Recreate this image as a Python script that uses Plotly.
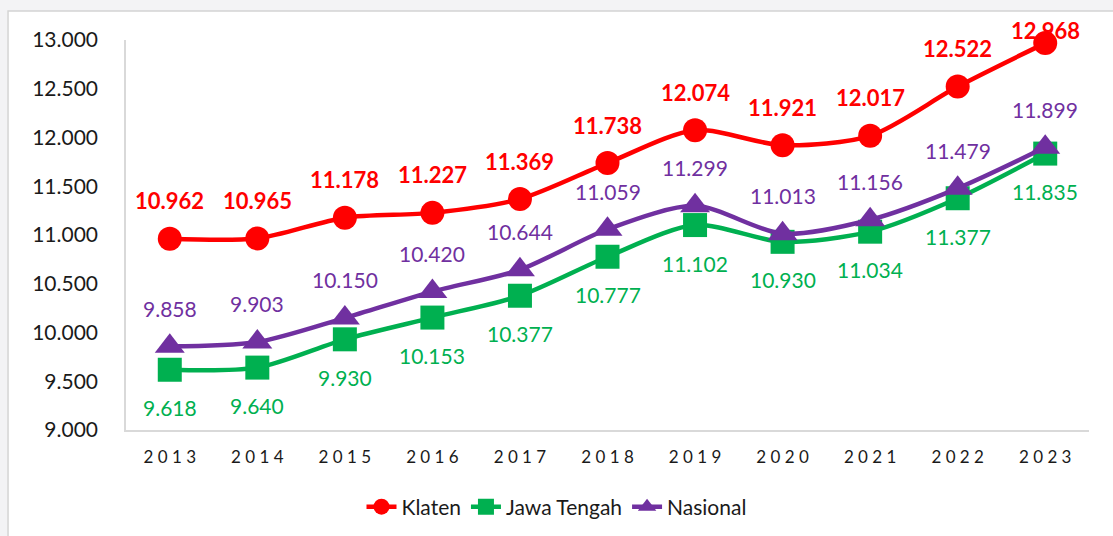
import plotly.graph_objects as go

years = [2013, 2014, 2015, 2016, 2017, 2018, 2019, 2020, 2021, 2022, 2023]
klaten = [10962, 10965, 11178, 11227, 11369, 11738, 12074, 11921, 12017, 12522, 12968]
jateng = [9618, 9640, 9930, 10153, 10377, 10777, 11102, 10930, 11034, 11377, 11835]
nasional = [9858, 9903, 10150, 10420, 10644, 11059, 11299, 11013, 11156, 11479, 11899]
y_ticks = [9000, 9500, 10000, 10500, 11000, 11500, 12000, 12500, 13000]

FONT = "Lato"
RED, GREEN, PURPLE = "#ff0000", "#00b050", "#7030a0"
Y_MIN, Y_MAX = 9000, 13000
PLOT_TOP, PLOT_H = 40, 390

def fmt(v):
    return f"{v:,}".replace(",", ".")

cats = [str(y) for y in years]
fig = go.Figure()

series = [
    ("Klaten", klaten, RED, "circle", 24, True, 38),
    ("Jawa Tengah", jateng, GREEN, "square", 24, False, -38),
    ("Nasional", nasional, PURPLE, "triangle-up", 26, False, 38),
]

for name, vals, col, sym, size, bold, shift in series:
    fig.add_trace(go.Scatter(
        x=cats, y=vals, name=name, mode="lines+markers", cliponaxis=False,
        line=dict(color=col, width=4.5, shape="spline", smoothing=0.8),
        marker=dict(symbol=sym, size=size, color=col, line=dict(width=0)),
    ))
    for i, v in enumerate(vals):
        t = fmt(v)
        if bold:
            t = f"<b>{t}</b>"
        s = shift
        if shift > 0:
            # keep labels inside the chart box, as the original does
            px_from_top = (Y_MAX - v) / (Y_MAX - Y_MIN) * PLOT_H + PLOT_TOP
            s = min(shift, px_from_top - 30)
        fig.add_annotation(x=i, y=v, xref="x", yref="y", text=t, showarrow=False,
                           yshift=s, font=dict(family=FONT, size=22 if bold else 21, color=col))

# white chart box
fig.add_shape(type="rect", xref="paper", yref="paper",
              x0=-0.1225, x1=1.2, y0=-0.5, y1=(430 - 11) / 390,
              fillcolor="white", line=dict(color="#d4d4d4", width=1.5), layer="below")

fig.update_layout(
    width=1113, height=536,
    margin=dict(l=126, r=24, t=40, b=106),
    paper_bgcolor="#f3f3f5", plot_bgcolor="white",
    font=dict(family=FONT, color="#1a1a1a"),
    showlegend=True,
    legend=dict(orientation="h", xref="container", yref="container",
                x=0.5, xanchor="center", y=1 - 507 / 536, yanchor="middle",
                font=dict(family=FONT, size=21, color="#1a1a1a"),
                bgcolor="rgba(0,0,0,0)"),
)
fig.update_xaxes(type="category", range=[-0.5, len(years) - 0.5],
                 tickvals=cats, ticktext=[" ".join(c) for c in cats],
                 tickfont=dict(family=FONT, size=17, color="#1a1a1a"),
                 showgrid=False, zeroline=False, showline=True,
                 linecolor="#d9d9d9", linewidth=1.5, ticks="", ticklabelstandoff=11)
fig.update_yaxes(range=[Y_MIN, Y_MAX], tickvals=y_ticks,
                 ticktext=[fmt(v) for v in y_ticks],
                 tickfont=dict(family=FONT, size=21, color="#1a1a1a"),
                 showgrid=False, zeroline=False, showline=True,
                 linecolor="#d9d9d9", linewidth=1.5, ticks="", ticklabelstandoff=22)

fig.write_html("out.html", config={"displayModeBar": False},
               post_script="document.body.style.margin='0';document.body.style.background='#f3f3f5';")
